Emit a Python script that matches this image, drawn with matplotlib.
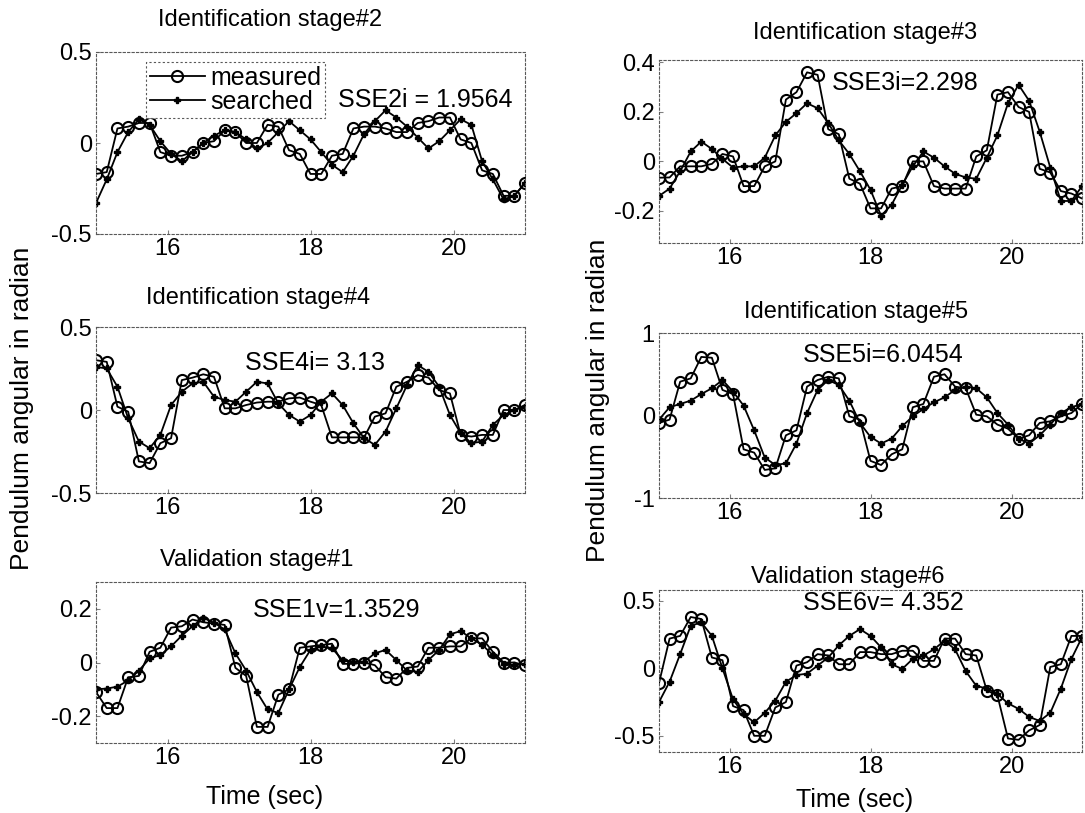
import numpy as np
import matplotlib
matplotlib.use("Agg")
import matplotlib.pyplot as plt

plt.rcParams['font.family'] = ['Liberation Sans', 'DejaVu Sans']
plt.rcParams['axes.unicode_minus'] = False

W, H = 1085, 813

# sampling grid of the recorded signals (0.15 s steps)
time = np.linspace(15, 21, 41)

# Identification stage#2
meas_2 = [-0.17, -0.16, 0.08, 0.09, 0.11, 0.11, -0.05, -0.07, -0.07, -0.05, 0.00,
          0.01, 0.07, 0.06, 0.00, 0.00, 0.10, 0.09, -0.04, -0.06, -0.17, -0.17,
          -0.07, -0.06, 0.08, 0.09, 0.09, 0.08, 0.06, 0.06, 0.11, 0.12, 0.14,
          0.14, 0.02, 0.00, -0.15, -0.17, -0.29, -0.29, -0.22]
srch_2 = [-0.33, -0.20, -0.05, 0.06, 0.13, 0.10, 0.01, -0.06, -0.10, -0.05, 0.00,
          0.04, 0.07, 0.06, 0.02, -0.03, 0.00, 0.06, 0.12, 0.07, 0.02, -0.05,
          -0.12, -0.16, -0.07, 0.05, 0.12, 0.18, 0.14, 0.09, 0.03, -0.03, 0.01,
          0.07, 0.13, 0.10, -0.10, -0.20, -0.31, -0.29, -0.22]

# Identification stage#3
meas_3 = [-0.066, -0.065, -0.02, -0.02, -0.02, -0.01, 0.03, 0.02, -0.10, -0.10,
          -0.02, 0.00, 0.25, 0.28, 0.36, 0.35, 0.13, 0.11, -0.07, -0.09, -0.19,
          -0.19, -0.11, -0.10, 0.00, 0.00, -0.10, -0.11, -0.11, -0.11, 0.02,
          0.045, 0.27, 0.28, 0.22, 0.20, -0.03, -0.045, -0.12, -0.13, -0.15]
srch_3 = [-0.14, -0.11, -0.04, 0.04, 0.08, 0.05, 0.01, -0.025, -0.02, -0.02,
          0.015, 0.105, 0.16, 0.195, 0.235, 0.215, 0.155, 0.085, 0.03, -0.04,
          -0.115, -0.22, -0.175, -0.095, -0.02, 0.04, 0.015, -0.02, -0.05,
          -0.065, -0.07, 0.015, 0.105, 0.235, 0.31, 0.245, 0.12, -0.025, -0.16,
          -0.16, -0.10]

# Identification stage#4
meas_4 = [0.30, 0.29, 0.02, -0.01, -0.31, -0.32, -0.20, -0.17, 0.18, 0.195, 0.215,
          0.20, 0.01, 0.01, 0.03, 0.045, 0.05, 0.05, 0.07, 0.075, 0.05, 0.03,
          -0.165, -0.165, -0.165, -0.165, -0.04, -0.02, 0.14, 0.17, 0.21, 0.195,
          0.12, 0.10, -0.15, -0.16, -0.15, -0.15, 0.00, 0.00, 0.03]
srch_4 = [0.26, 0.25, 0.14, -0.05, -0.19, -0.23, -0.15, 0.03, 0.11, 0.16, 0.17,
          0.08, 0.06, 0.05, 0.11, 0.17, 0.16, 0.04, -0.03, -0.07, -0.03, 0.05,
          0.10, 0.03, -0.08, -0.17, -0.21, -0.13, 0.01, 0.15, 0.27, 0.23, 0.14,
          -0.03, -0.14, -0.20, -0.19, -0.09, -0.03, 0.00, 0.02]

# Identification stage#5
meas_5 = [-0.09, -0.05, 0.41, 0.45, 0.71, 0.70, 0.31, 0.26, -0.41, -0.45, -0.66,
          -0.64, -0.24, -0.18, 0.35, 0.43, 0.47, 0.45, -0.01, -0.05, -0.55, -0.60,
          -0.47, -0.41, 0.10, 0.14, 0.47, 0.50, 0.35, 0.33, 0.01, -0.01, -0.11,
          -0.16, -0.28, -0.24, -0.09, -0.07, -0.01, 0.03, 0.14]
srch_5 = [-0.05, 0.10, 0.14, 0.18, 0.26, 0.33, 0.43, 0.29, 0.12, -0.18, -0.51,
          -0.60, -0.58, -0.34, 0.03, 0.31, 0.43, 0.37, 0.18, -0.09, -0.26, -0.34,
          -0.28, -0.13, -0.01, 0.08, 0.16, 0.22, 0.31, 0.35, 0.33, 0.22, 0.03,
          -0.11, -0.28, -0.34, -0.24, -0.11, 0.03, 0.10, 0.14]

# Validation stage#1
meas_1v = [-0.11, -0.17, -0.17, -0.055, -0.05, 0.04, 0.055, 0.13, 0.135, 0.16,
           0.15, 0.145, 0.14, -0.02, -0.05, -0.24, -0.24, -0.12, -0.10, 0.055,
           0.06, 0.065, 0.07, -0.005, -0.005, 0.00, -0.01, -0.055, -0.06, -0.02,
           -0.015, 0.055, 0.055, 0.06, 0.06, 0.09, 0.09, 0.04, 0.00, 0.00, -0.01]
srch_1v = [-0.10, -0.097, -0.09, -0.067, -0.03, 0.015, 0.028, 0.06, 0.10, 0.135,
           0.167, 0.148, 0.123, 0.034, -0.03, -0.11, -0.175, -0.188, -0.10,
           -0.017, 0.047, 0.06, 0.053, 0.009, 0.003, 0.003, 0.034, 0.047, 0.009,
           -0.03, -0.035, 0.009, 0.047, 0.105, 0.117, 0.09, 0.066, 0.028, -0.004,
           -0.01, -0.005]

# Validation stage#6
meas_6v = [-0.11, 0.22, 0.24, 0.38, 0.365, 0.08, 0.06, -0.28, -0.31, -0.50, -0.50,
           -0.29, -0.25, 0.02, 0.045, 0.105, 0.095, 0.03, 0.03, 0.12, 0.12, 0.105,
           0.105, 0.13, 0.13, 0.055, 0.055, 0.22, 0.22, 0.105, 0.095, -0.165,
           -0.20, -0.52, -0.53, -0.46, -0.42, 0.01, 0.03, 0.24, 0.24]
srch_6v = [-0.25, -0.10, 0.105, 0.315, 0.34, 0.24, 0.00, -0.23, -0.34, -0.40,
           -0.33, -0.24, -0.10, -0.05, -0.04, 0.02, 0.08, 0.17, 0.24, 0.29, 0.24,
           0.155, 0.03, -0.005, 0.07, 0.095, 0.14, 0.205, 0.14, -0.02, -0.13,
           -0.15, -0.19, -0.26, -0.30, -0.36, -0.39, -0.33, -0.15, 0.07, 0.23]

x_ticks = [16, 18, 20]

panels = [
    # (measured, searched, title, title pos px, axes box px, ylim, yticks, note, note pos)
    (meas_2, srch_2, "Identification stage#2", (270, 20), (96, 52, 525, 234),
     (-0.5, 0.5), [-0.5, 0, 0.5], "SSE2i = 1.9564", (0.564, 0.736)),
    (meas_3, srch_3, "Identification stage#3", (865, 33), (659, 60, 1082, 243),
     (-0.33, 0.41), [-0.2, 0, 0.2, 0.4], "SSE3i=2.298", (0.409, 0.874)),
    (meas_4, srch_4, "Identification stage#4", (258, 298), (96, 327, 525, 493),
     (-0.5, 0.5), [-0.5, 0, 0.5], "SSE4i= 3.13", (0.347, 0.783)),
    (meas_5, srch_5, "Identification stage#5", (856, 312), (659, 333, 1082, 498),
     (-1, 1), [-1, 0, 1], "SSE5i=6.0454", (0.34, 0.867)),
    (meas_1v, srch_1v, "Validation stage#1", (257, 560), (96, 582, 525, 743),
     (-0.3, 0.3), [-0.2, 0, 0.2], "SSE1v=1.3529", (0.366, 0.826)),
    (meas_6v, srch_6v, "Validation stage#6", (848, 577), (659, 590, 1082, 752),
     (-0.62, 0.58), [-0.5, 0, 0.5], "SSE6v= 4.352", (0.34, 0.92)),
]

fig = plt.figure(figsize=(W / 100, H / 100), dpi=100)


def px(x, y):
    return x / W, 1 - y / H


for k, (meas, srch, title, tpos, box, ylim, yticks, note, npos) in enumerate(panels):
    x0, y0, x1, y1 = box
    ax = fig.add_axes([x0 / W, 1 - y1 / H, (x1 - x0) / W, (y1 - y0) / H])
    ax.plot(time, meas, '-o', color='black', lw=1.3, ms=8, mfc='none', mew=1.5,
            label='measured')
    ax.plot(time, srch, '-P', color='black', lw=1.3, ms=5, label='searched')
    ax.set_xlim(15, 21)
    ax.set_ylim(*ylim)
    ax.set_xticks(x_ticks)
    ax.set_xticklabels([str(v) for v in x_ticks])
    ax.set_yticks(yticks)
    ax.set_yticklabels(['%g' % v for v in yticks])
    ax.tick_params(direction='in', length=3, color='0.5', labelsize=17, pad=3)
    for sp in ax.spines.values():
        sp.set_linestyle((0, (2, 2)))
        sp.set_color('0.35')
        sp.set_linewidth(0.8)
    ax.text(npos[0], npos[1], note, transform=ax.transAxes, fontsize=18,
            ha='left', va='center')
    fig.text(*px(*tpos), title, fontsize=17, ha='center', va='center')
    if k == 0:
        leg = ax.legend(loc='upper left', bbox_to_anchor=(0.117, 0.945), fontsize=18,
                        handlelength=2.2, handletextpad=0.2, borderpad=0.15,
                        labelspacing=0.0, borderaxespad=0, fancybox=False,
                        framealpha=1)
        leg.get_frame().set_edgecolor('0.35')
        leg.get_frame().set_linestyle((0, (2, 2)))
        leg.get_frame().set_linewidth(0.8)

fig.text(*px(22, 408), "Pendulum angular in radian", rotation=90, fontsize=19,
         ha='center', va='center')
fig.text(*px(598, 400), "Pendulum angular in radian", rotation=90, fontsize=19,
         ha='center', va='center')
fig.text(*px(265, 797), "Time (sec)", fontsize=18, ha='center', va='center')
fig.text(*px(855, 800), "Time (sec)", fontsize=18, ha='center', va='center')

fig.savefig("out.png", dpi=100)
